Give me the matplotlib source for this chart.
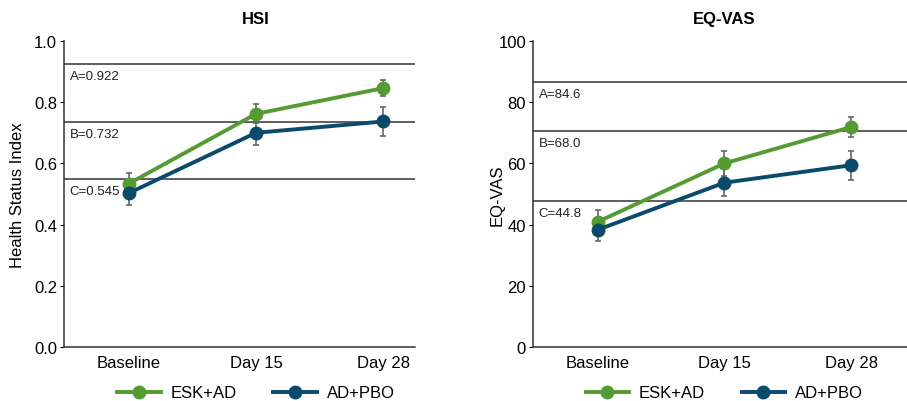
import numpy as np
import matplotlib
matplotlib.use("Agg")
import matplotlib.pyplot as plt
import matplotlib.transforms as mtransforms
from matplotlib.lines import Line2D

plt.rcParams['font.family'] = ['Liberation Sans', 'DejaVu Sans']

timepoints = ["Baseline", "Day 15", "Day 28"]
series_names = ["ESK+AD", "AD+PBO"]

hsi_esk = [0.534, 0.762, 0.846]
hsi_esk_err = [0.036, 0.031, 0.027]
hsi_pbo = [0.503, 0.700, 0.737]
hsi_pbo_err = [0.040, 0.041, 0.046]
hsi_ref_labels = ["A=0.922", "B=0.732", "C=0.545"]
hsi_ref_y = [0.925, 0.734, 0.549]

vas_esk = [40.9, 60.0, 71.9]
vas_esk_err = [3.8, 4.1, 3.4]
vas_pbo = [38.3, 53.7, 59.4]
vas_pbo_err = [3.5, 4.4, 4.7]
vas_ref_labels = ["A=84.6", "B=68.0", "C=44.8"]
vas_ref_y = [86.5, 70.6, 47.7]

green = "#559B33"
blue = "#0A4A6A"

fig = plt.figure(figsize=(9.07, 4.02), dpi=100)
W, H = 907, 402
ax1 = fig.add_axes([64 / W, 1 - 348 / H, (415 - 64) / W, (348 - 42) / H])
ax2 = fig.add_axes([533 / W, 1 - 348 / H, (907 - 533) / W, (348 - 42) / H])


def panel(ax, esk, esk_err, pbo, pbo_err, refs, ref_y, title, ylabel, ymax, ticks, fmt, xlim, ylab_x):
    x = np.arange(len(timepoints))
    for yv, lab in zip(ref_y, refs):
        ax.axhline(yv, color="#333333", lw=1.1, zorder=1)
        ax.annotate(lab, xy=(0, yv), xycoords=("axes fraction", "data"),
                    xytext=(4, -4), textcoords="offset points",
                    ha="left", va="top", fontsize=9.5, color="#222222")
    for vals, err, c in [(esk, esk_err, green), (pbo, pbo_err, blue)]:
        ax.errorbar(x, vals, yerr=err, color=c, lw=2.8, marker="o", ms=9,
                    ecolor="#666666", elinewidth=1.2, capsize=2.5, capthick=1.2, zorder=3)
    ax.set_xlim(*xlim)
    ax.set_ylim(0, ymax)
    ax.set_yticks(ticks)
    ax.set_yticklabels([fmt.format(t) for t in ticks])
    ax.set_xticks(x)
    ax.set_xticklabels(timepoints)
    ax.tick_params(axis="x", length=0, labelsize=12, pad=6)
    ax.tick_params(axis="y", length=3, labelsize=12, pad=2)
    for s in ["top", "right"]:
        ax.spines[s].set_visible(False)
    for s in ["left", "bottom"]:
        ax.spines[s].set_linewidth(1.1)
        ax.spines[s].set_color("#333333")
    ax.set_ylabel(ylabel, fontsize=12)
    ax.yaxis.set_label_coords(ylab_x, 0.5)
    trans = mtransforms.blended_transform_factory(ax.transData, ax.transAxes)
    ax.text(1, 1.072, title, transform=trans, ha="center", va="center",
            fontsize=12, fontweight="bold")
    handles = [Line2D([], [], color=green, lw=2.8, marker="o", ms=9),
               Line2D([], [], color=blue, lw=2.8, marker="o", ms=9)]
    ax.legend(handles, series_names, loc="center",
              bbox_to_anchor=(1, -0.15), bbox_transform=trans, ncol=2,
              frameon=False, fontsize=12, handlelength=2.6, columnspacing=2.2,
              handletextpad=0.6, borderpad=0, borderaxespad=0)


panel(ax1, hsi_esk, hsi_esk_err, hsi_pbo, hsi_pbo_err, hsi_ref_labels, hsi_ref_y,
      "HSI", "Health Status Index", 1.0, [0, 0.2, 0.4, 0.6, 0.8, 1.0], "{:.1f}",
      (-0.51, 2.25), -0.111)
panel(ax2, vas_esk, vas_esk_err, vas_pbo, vas_pbo_err, vas_ref_labels, vas_ref_y,
      "EQ-VAS", "EQ-VAS", 100, [0, 20, 40, 60, 80, 100], "{:.0f}",
      (-0.51, 2.44), -0.075)

fig.savefig("out.png", dpi=100)
